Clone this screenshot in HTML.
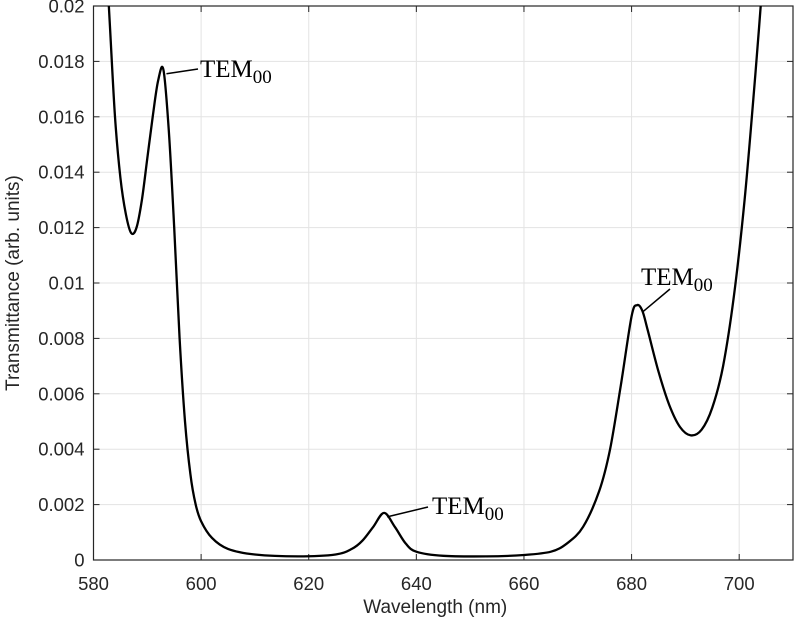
<!DOCTYPE html>
<html><head><meta charset="utf-8"><style>
body{margin:0;background:#fff;width:795px;height:628px;overflow:hidden}
svg text{font-family:"Liberation Sans",sans-serif;fill:#262626}
</style></head><body>
<svg id="c" width="795" height="628"></svg>
<script>
const wavelengths=[580,582,583,584,585,586,587,588,589,590,591,592,593,594,595,596,597,598,599,600,602,605,610,618,625,628,630,632,634,636,638,640,645,653,660,665,668,671,674,676,678,680,681,682,683,685,687,689,691,693,695,697,699,701,703,704,705,706];
const transmittance=[0.03,0.023,0.0195,0.016,0.0138,0.0125,0.0118,0.012,0.013,0.0145,0.016,0.0173,0.0177,0.0155,0.012,0.008,0.005,0.0031,0.002,0.0014,0.0008,0.0004,0.0002,0.00013,0.0002,0.0004,0.0007,0.0012,0.0017,0.0012,0.0006,0.0003,0.00015,0.00013,0.00018,0.0003,0.0006,0.0012,0.0025,0.004,0.0063,0.0088,0.0092,0.009,0.0083,0.0068,0.0056,0.0048,0.0045,0.0047,0.0055,0.007,0.0095,0.013,0.0175,0.02,0.0225,0.026];
const xTicks=[580,600,620,640,660,680,700];
const yTicks=[0,0.002,0.004,0.006,0.008,0.01,0.012,0.014,0.016,0.018,0.02];
const yTickLabels=["0","0.002","0.004","0.006","0.008","0.01","0.012","0.014","0.016","0.018","0.02"];
const annotations=[{w:593,t:0.0177},{w:634,t:0.0017},{w:681.5,t:0.0091}];
const annotationLabelPos=[[200,77],[432,514],[641,285]];
const annotationLineEnd=[[198,69],[428,507],[670,289]];
const L=93.5,R=793,T=6,B=560,X0=580,X1=710,Y0=0,Y1=0.02;
const sx=v=>L+(v-X0)/(X1-X0)*(R-L), sy=v=>B-(v-Y0)/(Y1-Y0)*(B-T);
const svg=document.getElementById('c'),NS='http://www.w3.org/2000/svg';
function el(t,a,p){const e=document.createElementNS(NS,t);for(const k in a)e.setAttribute(k,a[k]);(p||svg).appendChild(e);return e;}
const defs=el('defs',{});const cp=el('clipPath',{id:'clip'},defs);el('rect',{x:L,y:T,width:R-L,height:B-T},cp);
xTicks.forEach(v=>{const g=el('line',{x1:sx(v),x2:sx(v),y1:T,y2:B,stroke:'#e3e3e3','stroke-width':1});

el('line',{x1:sx(v),x2:sx(v),y1:B,y2:B-6,stroke:'#262626'});el('line',{x1:sx(v),x2:sx(v),y1:T,y2:T+6,stroke:'#262626'});
const t=el('text',{x:sx(v),y:B+30,'text-anchor':'middle','font-size':18.5});t.textContent=v;
});
yTicks.forEach((v,i)=>{const g=el('line',{x1:L,x2:R,y1:sy(v),y2:sy(v),stroke:'#e3e3e3','stroke-width':1});

el('line',{x1:L,x2:L+6,y1:sy(v),y2:sy(v),stroke:'#262626'});el('line',{x1:R,x2:R-6,y1:sy(v),y2:sy(v),stroke:'#262626'});
const t=el('text',{x:L-9,y:sy(v)+6.5,'text-anchor':'end','font-size':18.5});t.textContent=yTickLabels[i];
});
const box=el('rect',{x:L,y:T,width:R-L,height:B-T,fill:'none',stroke:'#262626','stroke-width':1.2});

const P=wavelengths.map((w,i)=>[sx(w),sy(transmittance[i])]);
let d='M'+P[0][0].toFixed(1)+','+P[0][1].toFixed(1);
for(let i=0;i<P.length-1;i++){const p0=P[Math.max(0,i-1)],p1=P[i],p2=P[i+1],p3=P[Math.min(P.length-1,i+2)];
const c1=[p1[0]+(p2[0]-p0[0])/6,p1[1]+(p2[1]-p0[1])/6],c2=[p2[0]-(p3[0]-p1[0])/6,p2[1]-(p3[1]-p1[1])/6];
d+='C'+c1[0].toFixed(1)+','+c1[1].toFixed(1)+' '+c2[0].toFixed(1)+','+c2[1].toFixed(1)+' '+p2[0].toFixed(1)+','+p2[1].toFixed(1);}
const line=el('path',{d:d,fill:'none',stroke:'#000','stroke-width':2.3,'stroke-linejoin':'round','clip-path':'url(#clip)'});

annotations.forEach((a,i)=>{const [lx,ly]=annotationLabelPos[i];const [ex,ey]=annotationLineEnd[i];
el('line',{x1:sx(a.w)+3,y1:sy(a.t)+4,x2:ex,y2:ey,stroke:'#000','stroke-width':1.5});
const t=el('text',{x:lx,y:ly,'font-size':25});t.style.fontFamily='"Liberation Serif",serif';t.style.fill='#000';
t.innerHTML='TEM<tspan dy="6" font-size="19">00</tspan>';
});
const xt=el('text',{x:(L+R)/2-8,y:613,'text-anchor':'middle','font-size':19});xt.textContent='Wavelength (nm)';

const yt=el('text',{x:0,y:0,'text-anchor':'middle','font-size':19,transform:'translate(19,283) rotate(-90)'});yt.textContent='Transmittance (arb. units)';

</script></body></html>
